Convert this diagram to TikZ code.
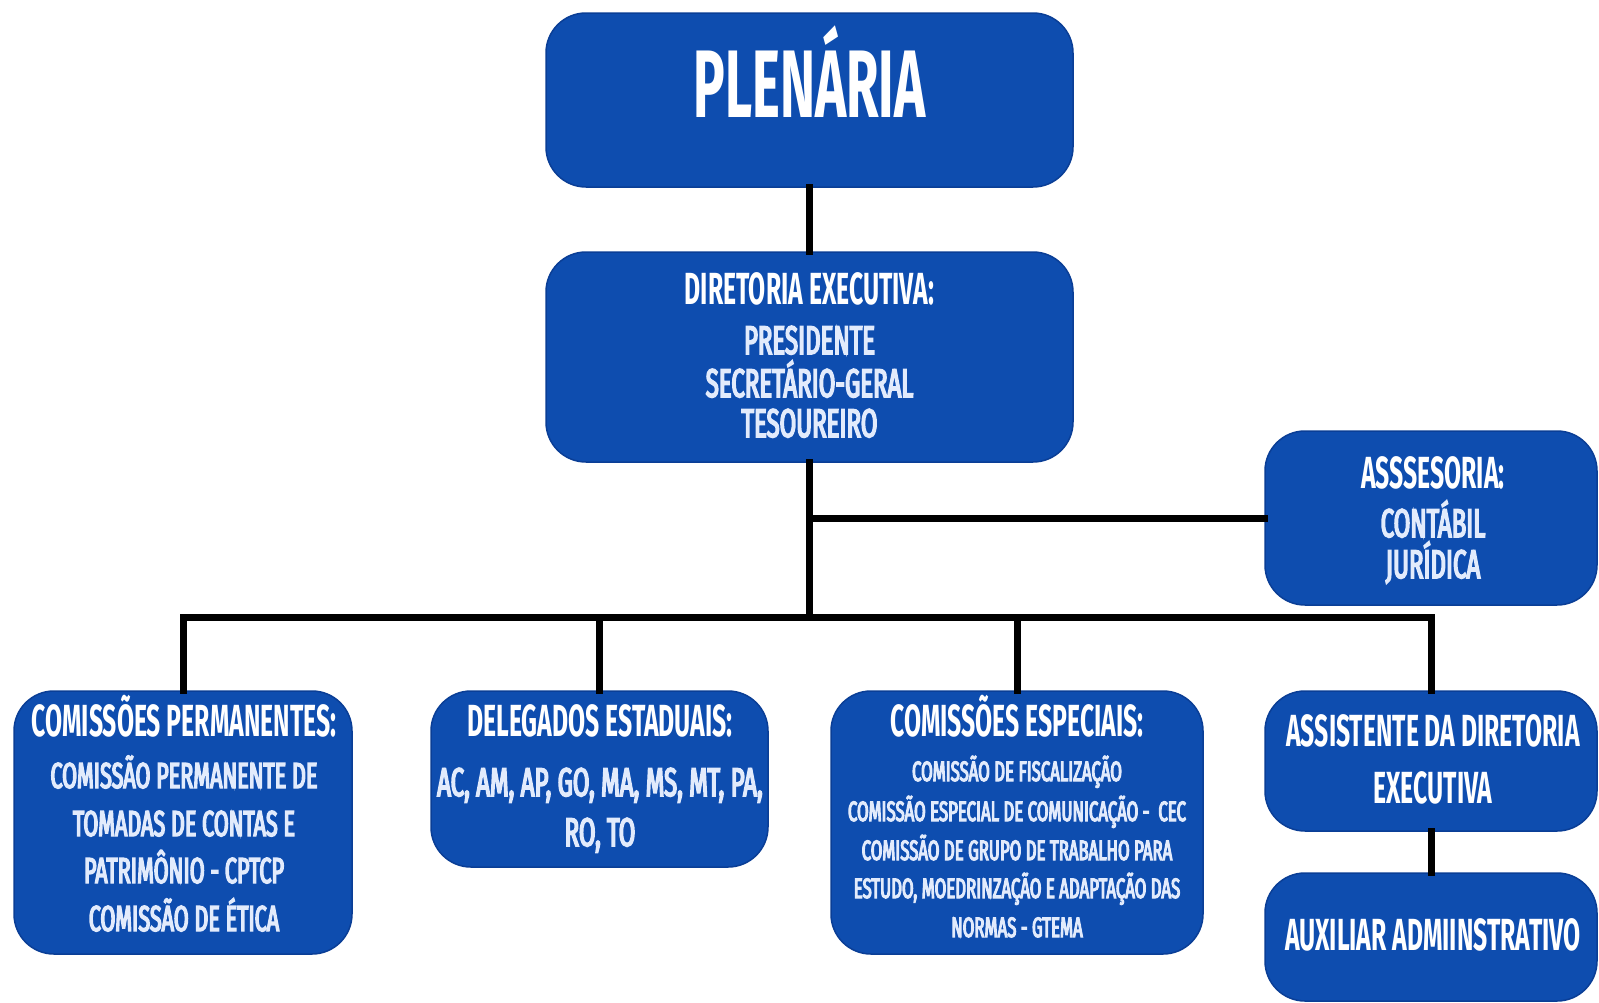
\documentclass[tikz,border=0pt]{standalone}
\usepackage{fontspec}
\setmainfont{Fira Sans}[FakeStretch=0.55]
\newfontfamily\subf{Fira Sans}[FakeStretch=0.6, FakeBold=4]
\definecolor{boxblue}{RGB}{14,77,175}
\definecolor{boxedge}{RGB}{10,62,150}
\definecolor{subtext}{RGB}{226,235,252}
\tikzset{
  orgbox/.style={draw=boxedge, line width=1.5pt, fill=boxblue, rounded corners=40pt, inner sep=0pt},
  link/.style={line width=7pt, draw=black, line cap=rect, line join=miter},
  txt/.style={anchor=base, inner sep=0pt, text=white},
  big/.style={txt, font=\fontsize{96}{96}\selectfont\bfseries},
  hd/.style={txt, font=\fontsize{45}{45}\selectfont\bfseries},
  sub/.style={txt, text=subtext, font=\fontsize{40}{40}\subf},
  subm/.style={txt, text=subtext, font=\fontsize{36}{36}\subf},
  subs/.style={txt, text=subtext, font=\fontsize{28}{28}\subf},
}
\begin{document}
\begin{tikzpicture}[x=1pt,y=-1pt]
\useasboundingbox (0,0) rectangle (1599,1002);
\fill[white] (0,0) rectangle (1599,1002);
% boxes
\node[orgbox, minimum width=527pt, minimum height=174pt] (plen) at (809.5,100) {};
\node[orgbox, minimum width=527pt, minimum height=210pt] (dir) at (809.5,357) {};
\node[orgbox, minimum width=332pt, minimum height=174pt] (ass) at (1431,518) {};
\node[orgbox, minimum width=338pt, minimum height=263pt] (perm) at (183,822.5) {};
\node[orgbox, minimum width=337pt, minimum height=176pt] (del) at (599.5,779) {};
\node[orgbox, minimum width=372pt, minimum height=263pt] (esp) at (1017,822.5) {};
\node[orgbox, minimum width=332pt, minimum height=140pt] (assist) at (1431,761) {};
\node[orgbox, minimum width=332pt, minimum height=128pt] (aux) at (1431,937) {};
% connectors
\coordinate (bus) at (809.5,617);
\draw[link] (plen.south) -- (dir.north);
\draw[link] (dir.south) -- (bus);
\draw[link] (dir.south |- ass.west) -- (ass.west);
\draw[link] (perm.north) -- (perm.north |- bus) -- (assist.north |- bus) -- (assist.north);
\draw[link] (del.north |- bus) -- (del.north);
\draw[link] (esp.north |- bus) -- (esp.north);
\draw[link] (assist.south) -- (aux.north);
% texts
\node[big] (tplen) at (809.5,117) {PLENÁRIA};
\node[hd] (tdir) at (809.5,304) {DIRETORIA EXECUTIVA:};
\node[sub] (tdir1) at (809.5,354) {PRESIDENTE};
\node[sub] (tdir2) at (809.5,397) {SECRETÁRIO-GERAL};
\node[sub] (tdir3) at (809.5,437) {TESOUREIRO};
\node[hd] (tass) at (1433,488) {ASSSESORIA:};
\node[sub] (tass1) at (1433,537) {CONTÁBIL};
\node[sub] (tass2) at (1433,578) {JURÍDICA};
\node[hd] (tperm) at (184,736) {COMISSÕES PERMANENTES:};
\node[subm] (tperm1) at (184,788) {COMISSÃO PERMANENTE DE};
\node[subm] (tperm2) at (184,836) {TOMADAS DE CONTAS E};
\node[subm] (tperm3) at (184,883) {PATRIMÔNIO - CPTCP};
\node[subm] (tperm4) at (184,931) {COMISSÃO DE ÉTICA};
\node[hd] (tdel) at (600,736) {DELEGADOS ESTADUAIS:};
\node[sub] (tdel1) at (600,796) {AC, AM, AP, GO, MA, MS, MT, PA,};
\node[sub] (tdel2) at (600,846) {RO, TO};
\node[hd] (tesp) at (1017,736) {COMISSÕES ESPECIAIS:};
\node[subs] (tesp1) at (1017,781) {COMISSÃO DE FISCALIZAÇÃO};
\node[subs] (tesp2) at (1017,821) {COMISSÃO ESPECIAL DE COMUNICAÇÃO -~~CEC};
\node[subs] (tesp3) at (1017,860) {COMISSÃO DE GRUPO DE TRABALHO PARA};
\node[subs] (tesp4) at (1017,898) {ESTUDO, MOEDRINZAÇÃO E ADAPTAÇÃO DAS};
\node[subs] (tesp5) at (1017,937) {NORMAS - GTEMA};
\node[hd] (tassist1) at (1433,746) {ASSISTENTE DA DIRETORIA};
\node[hd] (tassist2) at (1433,803) {EXECUTIVA};
\node[hd] (taux) at (1433,950) {AUXILIAR ADMIINSTRATIVO};
\end{tikzpicture}
\end{document}
